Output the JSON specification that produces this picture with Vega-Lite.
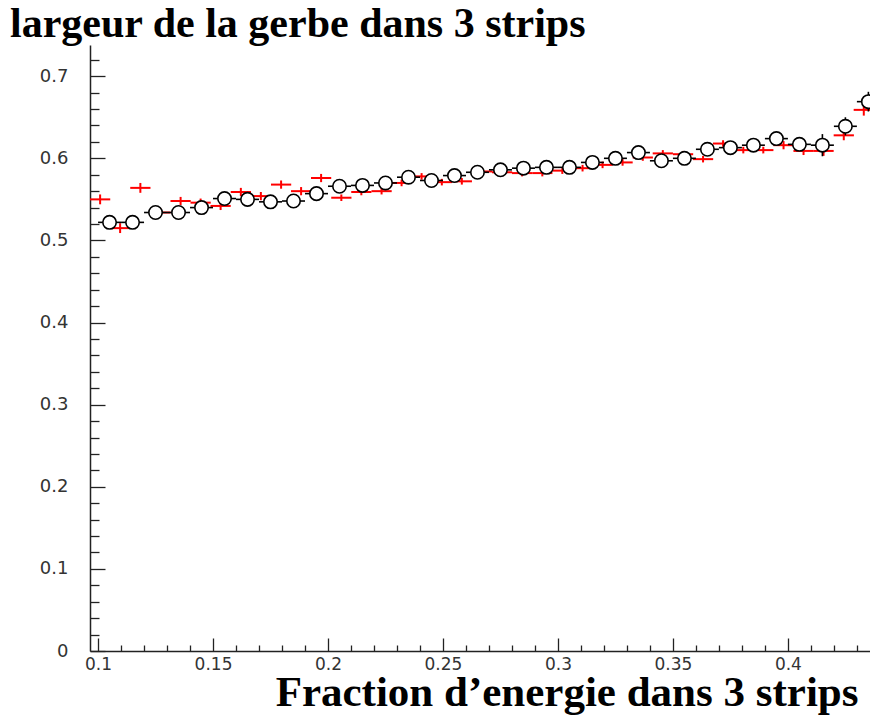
{
  "$schema": "https://vega.github.io/schema/vega-lite/v6.json",
  "width": 780,
  "height": 606,
  "autosize": "none",
  "padding": {"left": 90, "top": 45, "right": 0, "bottom": 64},
  "background": "white",
  "config": {"view": {"stroke": null}},
  "title": {
    "text": "largeur de la gerbe dans 3 strips",
    "anchor": "start",
    "frame": "group",
    "dx": -80,
    "dy": 47,
    "offset": 13,
    "baseline": "alphabetic",
    "font": "Liberation Serif",
    "fontWeight": "bold",
    "fontSize": 42,
    "color": "black"
  },
  "datasets": {
    "red": [
      {"x": 0.1009, "y": 0.550, "xlo": 0.0965, "xhi": 0.1053, "ylo": 0.544, "yhi": 0.556},
      {"x": 0.1096, "y": 0.515, "xlo": 0.1052, "xhi": 0.1140, "ylo": 0.509, "yhi": 0.521},
      {"x": 0.1184, "y": 0.564, "xlo": 0.1140, "xhi": 0.1228, "ylo": 0.558, "yhi": 0.570},
      {"x": 0.1271, "y": 0.534, "xlo": 0.1227, "xhi": 0.1315, "ylo": 0.529, "yhi": 0.539},
      {"x": 0.1359, "y": 0.548, "xlo": 0.1315, "xhi": 0.1403, "ylo": 0.543, "yhi": 0.553},
      {"x": 0.1446, "y": 0.546, "xlo": 0.1402, "xhi": 0.1490, "ylo": 0.541, "yhi": 0.551},
      {"x": 0.1533, "y": 0.542, "xlo": 0.1489, "xhi": 0.1577, "ylo": 0.537, "yhi": 0.547},
      {"x": 0.1621, "y": 0.559, "xlo": 0.1577, "xhi": 0.1665, "ylo": 0.554, "yhi": 0.564},
      {"x": 0.1708, "y": 0.554, "xlo": 0.1664, "xhi": 0.1752, "ylo": 0.549, "yhi": 0.559},
      {"x": 0.1796, "y": 0.568, "xlo": 0.1752, "xhi": 0.1840, "ylo": 0.563, "yhi": 0.573},
      {"x": 0.1883, "y": 0.560, "xlo": 0.1839, "xhi": 0.1927, "ylo": 0.555, "yhi": 0.565},
      {"x": 0.1970, "y": 0.576, "xlo": 0.1926, "xhi": 0.2014, "ylo": 0.571, "yhi": 0.581},
      {"x": 0.2058, "y": 0.552, "xlo": 0.2014, "xhi": 0.2102, "ylo": 0.548, "yhi": 0.556},
      {"x": 0.2145, "y": 0.559, "xlo": 0.2101, "xhi": 0.2189, "ylo": 0.555, "yhi": 0.563},
      {"x": 0.2233, "y": 0.560, "xlo": 0.2189, "xhi": 0.2277, "ylo": 0.556, "yhi": 0.564},
      {"x": 0.2320, "y": 0.570, "xlo": 0.2276, "xhi": 0.2364, "ylo": 0.566, "yhi": 0.574},
      {"x": 0.2407, "y": 0.578, "xlo": 0.2363, "xhi": 0.2451, "ylo": 0.574, "yhi": 0.582},
      {"x": 0.2495, "y": 0.571, "xlo": 0.2451, "xhi": 0.2539, "ylo": 0.567, "yhi": 0.575},
      {"x": 0.2582, "y": 0.572, "xlo": 0.2538, "xhi": 0.2626, "ylo": 0.568, "yhi": 0.576},
      {"x": 0.2670, "y": 0.584, "xlo": 0.2626, "xhi": 0.2714, "ylo": 0.580, "yhi": 0.588},
      {"x": 0.2757, "y": 0.583, "xlo": 0.2713, "xhi": 0.2801, "ylo": 0.579, "yhi": 0.587},
      {"x": 0.2844, "y": 0.582, "xlo": 0.2800, "xhi": 0.2888, "ylo": 0.578, "yhi": 0.586},
      {"x": 0.2932, "y": 0.582, "xlo": 0.2888, "xhi": 0.2976, "ylo": 0.578, "yhi": 0.586},
      {"x": 0.3019, "y": 0.585, "xlo": 0.2975, "xhi": 0.3063, "ylo": 0.581, "yhi": 0.589},
      {"x": 0.3107, "y": 0.588, "xlo": 0.3063, "xhi": 0.3151, "ylo": 0.584, "yhi": 0.592},
      {"x": 0.3194, "y": 0.592, "xlo": 0.3150, "xhi": 0.3238, "ylo": 0.588, "yhi": 0.596},
      {"x": 0.3281, "y": 0.595, "xlo": 0.3237, "xhi": 0.3325, "ylo": 0.591, "yhi": 0.599},
      {"x": 0.3369, "y": 0.601, "xlo": 0.3325, "xhi": 0.3413, "ylo": 0.597, "yhi": 0.605},
      {"x": 0.3456, "y": 0.606, "xlo": 0.3412, "xhi": 0.3500, "ylo": 0.602, "yhi": 0.610},
      {"x": 0.3544, "y": 0.605, "xlo": 0.3500, "xhi": 0.3588, "ylo": 0.601, "yhi": 0.609},
      {"x": 0.3631, "y": 0.599, "xlo": 0.3587, "xhi": 0.3675, "ylo": 0.595, "yhi": 0.603},
      {"x": 0.3718, "y": 0.618, "xlo": 0.3674, "xhi": 0.3762, "ylo": 0.614, "yhi": 0.622},
      {"x": 0.3806, "y": 0.610, "xlo": 0.3762, "xhi": 0.3850, "ylo": 0.606, "yhi": 0.614},
      {"x": 0.3893, "y": 0.610, "xlo": 0.3849, "xhi": 0.3937, "ylo": 0.606, "yhi": 0.614},
      {"x": 0.3981, "y": 0.616, "xlo": 0.3937, "xhi": 0.4025, "ylo": 0.611, "yhi": 0.621},
      {"x": 0.4068, "y": 0.609, "xlo": 0.4024, "xhi": 0.4112, "ylo": 0.604, "yhi": 0.614},
      {"x": 0.4155, "y": 0.609, "xlo": 0.4111, "xhi": 0.4199, "ylo": 0.603, "yhi": 0.615},
      {"x": 0.4243, "y": 0.628, "xlo": 0.4199, "xhi": 0.4287, "ylo": 0.622, "yhi": 0.634},
      {"x": 0.4330, "y": 0.659, "xlo": 0.4286, "xhi": 0.4374, "ylo": 0.652, "yhi": 0.666}
    ],
    "black": [
      {"x": 0.105, "y": 0.522, "xlo": 0.100, "xhi": 0.110, "ylo": 0.517, "yhi": 0.527},
      {"x": 0.115, "y": 0.522, "xlo": 0.110, "xhi": 0.120, "ylo": 0.517, "yhi": 0.527},
      {"x": 0.125, "y": 0.534, "xlo": 0.120, "xhi": 0.130, "ylo": 0.529, "yhi": 0.539},
      {"x": 0.135, "y": 0.534, "xlo": 0.130, "xhi": 0.140, "ylo": 0.529, "yhi": 0.539},
      {"x": 0.145, "y": 0.540, "xlo": 0.140, "xhi": 0.150, "ylo": 0.535, "yhi": 0.545},
      {"x": 0.155, "y": 0.551, "xlo": 0.150, "xhi": 0.160, "ylo": 0.546, "yhi": 0.556},
      {"x": 0.165, "y": 0.550, "xlo": 0.160, "xhi": 0.170, "ylo": 0.545, "yhi": 0.555},
      {"x": 0.175, "y": 0.547, "xlo": 0.170, "xhi": 0.180, "ylo": 0.542, "yhi": 0.552},
      {"x": 0.185, "y": 0.548, "xlo": 0.180, "xhi": 0.190, "ylo": 0.543, "yhi": 0.553},
      {"x": 0.195, "y": 0.557, "xlo": 0.190, "xhi": 0.200, "ylo": 0.552, "yhi": 0.562},
      {"x": 0.205, "y": 0.566, "xlo": 0.200, "xhi": 0.210, "ylo": 0.561, "yhi": 0.571},
      {"x": 0.215, "y": 0.567, "xlo": 0.210, "xhi": 0.220, "ylo": 0.562, "yhi": 0.572},
      {"x": 0.225, "y": 0.570, "xlo": 0.220, "xhi": 0.230, "ylo": 0.565, "yhi": 0.575},
      {"x": 0.235, "y": 0.577, "xlo": 0.230, "xhi": 0.240, "ylo": 0.572, "yhi": 0.582},
      {"x": 0.245, "y": 0.573, "xlo": 0.240, "xhi": 0.250, "ylo": 0.568, "yhi": 0.578},
      {"x": 0.255, "y": 0.579, "xlo": 0.250, "xhi": 0.260, "ylo": 0.574, "yhi": 0.584},
      {"x": 0.265, "y": 0.583, "xlo": 0.260, "xhi": 0.270, "ylo": 0.578, "yhi": 0.588},
      {"x": 0.275, "y": 0.586, "xlo": 0.270, "xhi": 0.280, "ylo": 0.581, "yhi": 0.591},
      {"x": 0.285, "y": 0.588, "xlo": 0.280, "xhi": 0.290, "ylo": 0.583, "yhi": 0.593},
      {"x": 0.295, "y": 0.589, "xlo": 0.290, "xhi": 0.300, "ylo": 0.584, "yhi": 0.594},
      {"x": 0.305, "y": 0.589, "xlo": 0.300, "xhi": 0.310, "ylo": 0.584, "yhi": 0.594},
      {"x": 0.315, "y": 0.595, "xlo": 0.310, "xhi": 0.320, "ylo": 0.590, "yhi": 0.600},
      {"x": 0.325, "y": 0.600, "xlo": 0.320, "xhi": 0.330, "ylo": 0.595, "yhi": 0.605},
      {"x": 0.335, "y": 0.607, "xlo": 0.330, "xhi": 0.340, "ylo": 0.601, "yhi": 0.613},
      {"x": 0.345, "y": 0.597, "xlo": 0.340, "xhi": 0.350, "ylo": 0.591, "yhi": 0.603},
      {"x": 0.355, "y": 0.600, "xlo": 0.350, "xhi": 0.360, "ylo": 0.594, "yhi": 0.606},
      {"x": 0.365, "y": 0.611, "xlo": 0.360, "xhi": 0.370, "ylo": 0.605, "yhi": 0.617},
      {"x": 0.375, "y": 0.613, "xlo": 0.370, "xhi": 0.380, "ylo": 0.607, "yhi": 0.619},
      {"x": 0.385, "y": 0.616, "xlo": 0.380, "xhi": 0.390, "ylo": 0.609, "yhi": 0.623},
      {"x": 0.395, "y": 0.624, "xlo": 0.390, "xhi": 0.400, "ylo": 0.616, "yhi": 0.632},
      {"x": 0.405, "y": 0.617, "xlo": 0.400, "xhi": 0.410, "ylo": 0.609, "yhi": 0.625},
      {"x": 0.415, "y": 0.616, "xlo": 0.410, "xhi": 0.420, "ylo": 0.6025, "yhi": 0.6295},
      {"x": 0.425, "y": 0.639, "xlo": 0.420, "xhi": 0.430, "ylo": 0.628, "yhi": 0.650},
      {"x": 0.435, "y": 0.669, "xlo": 0.430, "xhi": 0.440, "ylo": 0.657, "yhi": 0.681}
    ]
  },
  "encoding": {
    "x": {
      "field": "x",
      "type": "quantitative",
      "scale": {"domain": [0.0965, 0.4357], "nice": false, "zero": false},
      "axis": {
        "title": "Fraction d’energie dans 3 strips",
        "titleFont": "Liberation Serif",
        "titleFontWeight": "bold",
        "titleFontSize": 43,
        "titleColor": "black",
        "titleAnchor": "end",
        "titleAlign": "right",
        "titleBaseline": "alphabetic",
        "titleX": 768,
        "titleY": 54,
        "values": [0.1, 0.11, 0.12, 0.13, 0.14, 0.15, 0.16, 0.17, 0.18, 0.19, 0.2, 0.21, 0.22, 0.23, 0.24, 0.25, 0.26, 0.27, 0.28, 0.29, 0.3, 0.31, 0.32, 0.33, 0.34, 0.35, 0.36, 0.37, 0.38, 0.39, 0.4, 0.41, 0.42, 0.43],
        "labelExpr": "abs(datum.value*20-round(datum.value*20))<1e-6 ? format(datum.value, '~g') : ''",
        "labelFont": "DejaVu Sans",
        "labelFontSize": 17,
        "labelColor": "#333",
        "labelPadding": 18,
        "labelFlush": false,
        "labelOverlap": false,
        "tickSize": {"condition": {"test": "abs(datum.value*20-round(datum.value*20))<1e-6", "value": -13}, "value": -6},
        "tickColor": "#222",
        "tickWidth": 1.3,
        "domainColor": "#222",
        "domainWidth": 1.5,
        "grid": false
      }
    },
    "y": {
      "field": "y",
      "type": "quantitative",
      "scale": {"domain": [0, 0.738], "nice": false, "zero": false},
      "axis": {
        "title": null,
        "values": [0, 0.02, 0.04, 0.06, 0.08, 0.1, 0.12, 0.14, 0.16, 0.18, 0.2, 0.22, 0.24, 0.26, 0.28, 0.3, 0.32, 0.34, 0.36, 0.38, 0.4, 0.42, 0.44, 0.46, 0.48, 0.5, 0.52, 0.54, 0.56, 0.58, 0.6, 0.62, 0.64, 0.66, 0.68, 0.7, 0.72],
        "labelExpr": "abs(datum.value*10-round(datum.value*10))<1e-6 ? (datum.value == 0 ? '0' : format(datum.value, '.1f')) : ''",
        "labelFont": "DejaVu Sans",
        "labelFontSize": 18,
        "labelColor": "#333",
        "labelPadding": 37,
        "labelFlush": false,
        "labelOverlap": false,
        "tickSize": {"condition": {"test": "abs(datum.value*10-round(datum.value*10))<1e-6", "value": -15}, "value": -9},
        "tickColor": "#222",
        "tickWidth": 1.3,
        "domainColor": "#222",
        "domainWidth": 1.5,
        "grid": false
      }
    }
  },
  "layer": [
    {
      "data": {"name": "red"},
      "mark": {"type": "rule", "color": "#ff0000", "strokeWidth": 2, "clip": true},
      "encoding": {"x": {"field": "xlo", "type": "quantitative"}, "x2": {"field": "xhi"}, "y": {"field": "y", "type": "quantitative"}}
    },
    {
      "data": {"name": "red"},
      "mark": {"type": "rule", "color": "#ff0000", "strokeWidth": 2, "clip": true},
      "encoding": {"x": {"field": "x", "type": "quantitative"}, "y": {"field": "ylo", "type": "quantitative"}, "y2": {"field": "yhi"}}
    },
    {
      "data": {"name": "black"},
      "mark": {"type": "rule", "color": "black", "strokeWidth": 1.6, "clip": true},
      "encoding": {"x": {"field": "xlo", "type": "quantitative"}, "x2": {"field": "xhi"}, "y": {"field": "y", "type": "quantitative"}}
    },
    {
      "data": {"name": "black"},
      "mark": {"type": "rule", "color": "black", "strokeWidth": 1.6, "clip": true},
      "encoding": {"x": {"field": "x", "type": "quantitative"}, "y": {"field": "ylo", "type": "quantitative"}, "y2": {"field": "yhi"}}
    },
    {
      "data": {"name": "black"},
      "mark": {"type": "point", "shape": "circle", "filled": false, "fill": "white", "fillOpacity": 1, "stroke": "black", "strokeWidth": 1.6, "opacity": 1, "size": 180, "clip": true},
      "encoding": {"x": {"field": "x", "type": "quantitative"}, "y": {"field": "y", "type": "quantitative"}}
    }
  ]
}
